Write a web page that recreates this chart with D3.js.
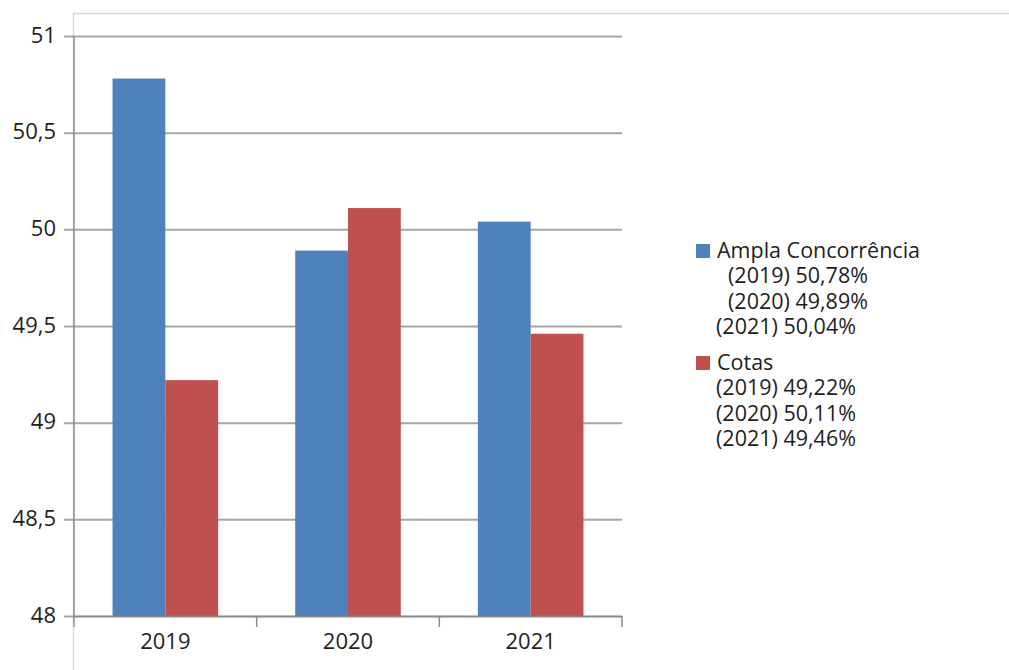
<!DOCTYPE html>
<html>
<head>
<meta charset="utf-8">
<script src="https://cdn.jsdelivr.net/npm/d3@7"></script>
<style>
  body { margin: 0; background: #fff; }
  svg text { font-family: 'Open Sans', sans-serif; fill: #1e1e1e; }
</style>
</head>
<body>
<svg width="1009" height="670"></svg>
<script>
// chart data
const years = ['2019', '2020', '2021'];
const seriesNames = ['Ampla Concorrência', 'Cotas'];
const ampla = [50.78, 49.89, 50.04];
const cotas = [49.22, 50.11, 49.46];
const yTicks = [48, 48.5, 49, 49.5, 50, 50.5, 51];
const legendAmpla = ['(2019) 50,78%', '(2020) 49,89%', '(2021) 50,04%'];
const legendCotas = ['(2019) 49,22%', '(2020) 50,11%', '(2021) 49,46%'];
const colors = ['#4F81BD', '#C0504D'];

const svg = d3.select('svg');
const margin = {top: 36, left: 74, right: 622, bottom: 616};

// outer frame (only top and left edges show)
svg.append('line').attr('x1', 73).attr('x2', 1009).attr('y1', 13.5).attr('y2', 13.5)
  .attr('stroke', '#d9d9d9').attr('stroke-width', 1.5);
svg.append('line').attr('x1', 73.5).attr('x2', 73.5).attr('y1', 13).attr('y2', 670)
  .attr('stroke', '#d9d9d9').attr('stroke-width', 1.5);

const yScale = d3.scaleLinear().domain([48, 51]).range([margin.bottom, margin.top]);
const xScale = d3.scaleBand().domain(years).range([margin.left, margin.right]);
const inner = d3.scaleBand().domain([0, 1]).range([0, xScale.bandwidth()]).paddingOuter(0.73).paddingInner(0);

const fmt = d => String(d).replace('.', ',');

// gridlines + y labels
const yAxis = d3.axisLeft(yScale).tickValues(yTicks).tickFormat(fmt)
  .tickSize(-(margin.right - margin.left)).tickPadding(9);
const gy = svg.append('g').attr('transform', `translate(${margin.left},0)`).call(yAxis);
gy.select('.domain').remove();
gy.selectAll('.tick line').attr('x1', -10).attr('stroke', '#a6a6a6').attr('stroke-width', 2);
gy.selectAll('.tick text').attr('x', -18).attr('dy', '0.28em').attr('font-size', 22).attr('fill', '#1e1e1e');

// bars
const data = years.map((y, i) => ({year: y, vals: [ampla[i], cotas[i]]}));
const groups = svg.append('g').selectAll('g').data(data).enter().append('g')
  .attr('transform', d => `translate(${xScale(d.year)},0)`);
groups.selectAll('rect').data(d => d.vals).enter().append('rect')
  .attr('x', (d, i) => inner(i))
  .attr('width', inner.bandwidth())
  .attr('y', d => yScale(d))
  .attr('height', d => yScale(48) - yScale(d))
  .attr('fill', (d, i) => colors[i]);

// y axis line
svg.append('line').attr('x1', margin.left).attr('x2', margin.left)
  .attr('y1', margin.top).attr('y2', margin.bottom)
  .attr('stroke', '#8c8c8c').attr('stroke-width', 1.5);

// x axis
const xAxis = d3.axisBottom(xScale).tickSize(0).tickPadding(17);
const gx = svg.append('g').attr('transform', `translate(0,${margin.bottom})`).call(xAxis);
gx.select('.domain').attr('stroke', '#8c8c8c').attr('stroke-width', 1.5);
gx.selectAll('.tick text').attr('font-size', 22).attr('fill', '#1e1e1e');
const bounds = [margin.left].concat(years.map(y => xScale(y) + xScale.bandwidth()));
gx.selectAll('.sep').data(bounds).enter().append('line')
  .attr('x1', d => d).attr('x2', d => d).attr('y1', 0).attr('y2', 11)
  .attr('stroke', '#8c8c8c').attr('stroke-width', 1.5);

// legend
const leg = svg.append('g').attr('font-size', 21.5);
const legendBlocks = [
  {name: seriesNames[0], lines: legendAmpla, top: 258, indent: [12, 12, 0]},
  {name: seriesNames[1], lines: legendCotas, top: 370, indent: [0, 0, 0]}
];
legendBlocks.forEach((b, i) => {
  leg.append('rect').attr('x', 696).attr('y', b.top - 14).attr('width', 14).attr('height', 14)
    .attr('fill', colors[i]);
  leg.append('text').attr('x', 717).attr('y', b.top).text(b.name);
  b.lines.forEach((t, j) => {
    leg.append('text').attr('x', 716 + b.indent[j]).attr('y', b.top + 25.3 * (j + 1)).text(t);
  });
});
</script>
</body>
</html>
